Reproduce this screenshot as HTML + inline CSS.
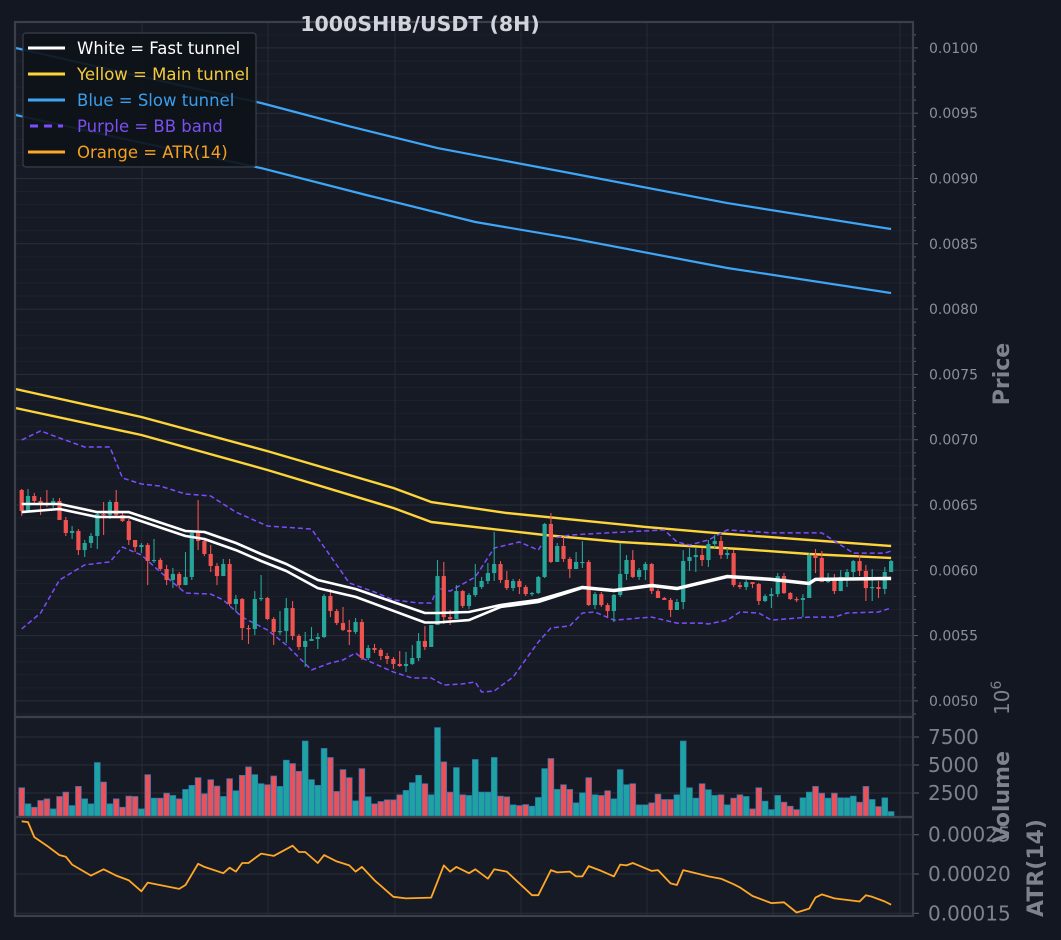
<!DOCTYPE html>
<html><head><meta charset="utf-8"><style>
html,body{margin:0;padding:0;background:#131722;}
svg{display:block;font-family:"DejaVu Sans","Liberation Sans",sans-serif;}
</style></head><body>
<svg id="chart" width="1061" height="940" viewBox="0 0 1061 940">
<defs>
<clipPath id="cpMain"><rect x="15" y="22" width="898" height="695"/></clipPath>
<clipPath id="cpVol"><rect x="15" y="717" width="898" height="100"/></clipPath>
<clipPath id="cpAtr"><rect x="15" y="817" width="898" height="99"/></clipPath>
</defs>
<rect x="0" y="0" width="1061" height="940" fill="#131722"/>
<rect x="15" y="22" width="898" height="894" fill="#161a25"/>
<g id="grid"></g>
<g id="mainG" clip-path="url(#cpMain)"></g>
<g id="volG" clip-path="url(#cpVol)"></g>
<g id="atrG" clip-path="url(#cpAtr)"></g>
<g id="axes"></g>
<g>
<rect x="23" y="33" width="233" height="134" rx="3" fill="#0e1219" fill-opacity="0.92" stroke="#3a3e4a" stroke-width="1.2"/>
<line x1="28" y1="48" x2="65" y2="48" stroke="#ffffff" stroke-width="3"/>
<text x="77" y="54" font-size="16.5" fill="#ffffff">White = Fast tunnel</text>
<line x1="28" y1="74" x2="65" y2="74" stroke="#fdd43a" stroke-width="3"/>
<text x="77" y="80" font-size="16.5" fill="#f5cb3d">Yellow = Main tunnel</text>
<line x1="28" y1="100" x2="65" y2="100" stroke="#3ea6f5" stroke-width="3"/>
<text x="77" y="106" font-size="16.5" fill="#3a9eea">Blue = Slow tunnel</text>
<line x1="30" y1="126" x2="63" y2="126" stroke="#7c4dff" stroke-width="3" stroke-dasharray="8,6"/>
<text x="77" y="132" font-size="16.5" fill="#7b4ff0">Purple = BB band</text>
<line x1="28" y1="152" x2="65" y2="152" stroke="#ffa726" stroke-width="3"/>
<text x="77" y="158" font-size="16.5" fill="#f5a020">Orange = ATR(14)</text>
</g>
<text x="420" y="31" text-anchor="middle" font-size="20.5" font-weight="bold" fill="#d1d4dc">1000SHIB/USDT (8H)</text>
<g id="labels"></g>
</svg>
<script>
// ---- data (prices in 1e-6 USDT, volume in 1e6, ATR in 1e-6) ----
const firstOpen = 6615;
const closes = [6454,6569,6531,6508,6500,6531,6385,6286,6301,6155,
6209,6263,6431,6423,6523,6423,6377,6232,6178,6194,
6071,6079,6010,5926,5972,5887,5949,6286,6224,6125,
6033,5956,6048,5742,5780,5558,5551,5780,5788,5627,
5528,5535,5711,5497,5413,5459,5474,5489,5803,5688,
5596,5543,5528,5604,5328,5405,5390,5344,5321,5283,
5267,5283,5328,5459,5413,5581,5956,5642,5627,5841,
5727,5811,5872,5918,5979,6048,5926,5864,5918,5872,
5818,5826,5949,6355,6064,6186,6087,6010,6064,6064,
5734,5818,5734,5688,5811,5972,6079,5949,6002,6048,
5841,5788,5773,5696,5757,6071,6102,6117,6079,6201,
6224,6117,6132,5887,5872,5910,5895,5765,5803,5818,
5956,5826,5780,5773,5788,6117,6094,5910,5941,5841,
5949,5987,6071,5995,5864,5872,5857,5987,6071];
const highs = [6623,6623,6592,6561,6615,6554,6554,6408,6339,6316,
6232,6286,6439,6523,6538,6615,6446,6393,6232,6209,
6209,6240,6094,6041,6018,5987,6140,6309,6538,6240,
6194,6056,6087,6087,5811,5788,5581,5841,5964,5796,
5642,5688,5788,5765,5512,5528,5566,5520,5818,5857,
5704,5719,5620,5635,5627,5428,5436,5405,5367,5336,
5382,5375,5428,5520,5573,5581,6079,6064,5696,5887,
5849,5826,6048,5949,6056,6293,6071,5995,5934,5934,
5887,5834,5956,6362,6439,6209,6255,6102,6140,6224,
6079,5834,5834,5750,5818,6209,6117,6155,6018,6064,
6056,5857,5796,5788,5780,6155,6171,6171,6171,6232,
6270,6263,6171,6155,5910,5926,5910,5903,5818,5864,
5979,5979,5834,5796,5818,6132,6163,6148,5979,5972,
6002,6010,6079,6117,6041,6010,5918,6025,6079];
const lows = [6416,6454,6500,6423,6485,6477,6385,6263,6240,6117,
6102,6171,6163,6270,6393,6416,6370,6194,6140,6132,
5887,6056,5995,5887,5864,5864,5887,5926,6155,6109,
5987,5887,5956,5727,5681,5466,5436,5504,5765,5619,
5428,5504,5443,5466,5390,5260,5459,5397,5482,5642,
5581,5535,5428,5512,5313,5313,5367,5313,5283,5244,
5260,5221,5275,5305,5390,5413,5596,5589,5581,5627,
5711,5704,5796,5857,5895,5918,5903,5849,5841,5818,
5803,5803,5818,5941,6056,6064,6064,5941,6010,6018,
5727,5704,5719,5642,5604,5796,5926,5941,5926,5926,
5818,5788,5773,5642,5719,5704,5995,5987,6033,6025,
6171,6087,6087,5872,5857,5849,5864,5734,5757,5711,
5796,5818,5773,5757,5642,5788,5979,5910,5903,5818,
5841,5872,5949,5956,5765,5765,5788,5818,5987];
const volumes = [2970,1530,1230,1830,1980,1080,2190,2580,1380,3090,
1980,1530,5220,3480,1530,1980,1230,2220,2190,1080,
4140,2040,2040,2490,2280,1980,2820,3180,3870,2430,
3690,3120,2190,3780,2700,4080,4830,4140,3330,3240,
4020,3090,5430,5130,4440,7140,3690,3180,6480,5670,
2640,4590,3870,1800,4680,2160,1530,1740,1890,1890,
2340,2730,3420,4080,3330,2340,8340,5280,2580,4770,
2340,2280,5490,2580,2580,5670,2220,2160,1440,1380,
1470,1320,2100,4680,5580,2820,3240,2820,1620,2520,
3870,2340,2280,2700,1980,4590,3240,3330,1440,1440,
1620,2400,1920,1920,2340,7140,2970,2040,3330,2790,
2280,2340,1440,2040,2340,2190,1080,2970,1770,1020,
2280,1680,1320,1020,2070,2580,3090,2490,2040,2490,
2070,2070,2220,1680,3090,1920,1290,2070,840];
const whiteIdx = [0,6,12,17,26,29,34,38,42,47,53,64,66,71,76,82,89,94,100,104,112,119,125,126,138];
const whiteUpper = [6508,6508,6446,6446,6301,6293,6209,6125,6048,5926,5857,5673,5673,5681,5734,5773,5872,5849,5887,5864,5956,5934,5903,5934,5941];
const whiteLower = [6446,6469,6408,6408,6263,6240,6155,6071,5995,5864,5796,5600,5600,5619,5719,5757,5865,5842,5880,5857,5949,5927,5896,5927,5934];
const yellowUpIdx = [-1,19,39,59,65,77,99,110,125,138];
const yellowUpper = [7388,7174,6913,6630,6523,6439,6332,6286,6232,6186];
const yellowLoIdx = [-1,19,39,59,65,83,95,114,125,138];
const yellowLower = [7243,7036,6768,6477,6370,6270,6217,6163,6125,6094];
const blueUpIdx = [-1,18,38,52,66,87,112,138];
const blueUpper = [10000,9790,9578,9400,9233,9042,8812,8613];
const blueLoIdx = [-1,18,38,55,72,87,112,138];
const blueLower = [9487,9285,9080,8870,8667,8544,8315,8123];
const bbUpIdx = [0,3,6,10,14,16,19,22,26,30,34,39,46,47,52,56,59,63,65,66,68,72,75,79,82,83,87,93,102,104,106,109,112,119,127,130,132,137,138];
const bbUpper = [6998,7067,7013,6944,6944,6707,6661,6645,6584,6569,6446,6339,6316,6247,5903,5834,5773,5750,5750,5864,5841,5949,6171,6217,6155,6232,6270,6286,6309,6217,6194,6232,6309,6286,6286,6194,6132,6132,6148];
const bbLoIdx = [0,3,6,10,14,16,19,22,26,30,32,35,39,42,46,49,51,53,54,59,62,65,67,70,72,73,75,78,82,84,87,89,91,94,100,104,108,109,112,114,117,119,125,129,131,136,138];
const bbLower = [5551,5673,5926,6041,6064,6178,6117,5987,5826,5818,5773,5642,5543,5428,5237,5290,5313,5367,5328,5221,5175,5175,5122,5130,5145,5068,5076,5183,5451,5558,5574,5673,5681,5619,5642,5596,5596,5589,5619,5681,5673,5619,5642,5642,5673,5681,5711];
const atrIdx = [0,1,2,4,6,7,8,11,13,15,17,19,20,25,26,28,29,32,33,34,35,36,38,40,43,44,45,47,48,50,52,53,54,56,59,61,65,67,68,69,71,72,74,75,77,81,82,84,85,87,88,89,90,92,94,95,96,97,100,101,103,104,105,108,109,111,113,114,116,119,121,123,125,126,127,129,133,134,135,137,138];
const atrVals = [267,266,247,236,224,222,212,198,206,198,192,178,189,181,186,213,209,201,208,203,214,214,226,223,236,228,228,214,224,216,211,203,209,192,171,169,170,211,203,209,201,206,194,206,203,173,173,205,202,203,197,197,210,204,197,212,211,214,204,205,188,186,205,199,197,194,187,183,172,163,164,151,156,170,174,169,165,173,171,165,161];
const priceTicks = [5000,5500,6000,6500,7000,7500,8000,8500,9000,9500,10000];
const volTicks = [2500,5000,7500];
const volTickLabels = ["2500","5000","7500"];
const atrTicks = [150,200,250];
const atrTickLabels = ["0.00015","0.00020","0.00025"];

// ---- axis functions ----
const NS = "http://www.w3.org/2000/svg";
const xOf = i => 21.7 + i * 6.3;
const yP = p => 505 - (p - 6500) * 0.1306;
const yV = v => 821 - v * 28 / 2500;
const yA = a => 874 - (a - 200) * 0.786;
function mk(tag, attrs, parent) {
  const e = document.createElementNS(NS, tag);
  for (const k in attrs) e.setAttribute(k, attrs[k]);
  parent.appendChild(e);
  return e;
}
const grid = document.getElementById("grid");
const mainG = document.getElementById("mainG");
const volG = document.getElementById("volG");
const atrG = document.getElementById("atrG");
const axes = document.getElementById("axes");
const labels = document.getElementById("labels");

for (let p = 4900; p <= 10100; p += 100) {
  const y = yP(p);
  if (y < 22 || y > 717) continue;
  const major = p % 500 === 0;
  const l = mk("line", {x1: 15, x2: 913, y1: y, y2: y, stroke: major ? "#2a2e39" : "#1d212c", "stroke-width": 1}, grid);
  
  
  const t = mk("line", {x1: 913, x2: major ? 918 : 916, y1: y, y2: y, stroke: "#5d616c", "stroke-width": 1}, axes);
  
  
}
[142, 268, 395, 521, 647, 773, 900].forEach(x => {
  const l = mk("line", {x1: x, x2: x, y1: 22, y2: 916, stroke: "#262a35", "stroke-width": 1}, grid);
  
  
});
volTicks.forEach((v, k) => {
  const y = yV(v);
  const l = mk("line", {x1: 15, x2: 913, y1: y, y2: y, stroke: "#2a2e39", "stroke-width": 1}, grid);
  
  
  const t = mk("line", {x1: 913, x2: 919, y1: y, y2: y, stroke: "#5d616c"}, axes);
  
  
  const tx = mk("text", {x: 928, y: y + 7, "font-size": 20, fill: "#7e828d"}, labels);
  tx.textContent = volTickLabels[k];
  
  
});
atrTicks.forEach((a, k) => {
  const y = yA(a);
  const l = mk("line", {x1: 15, x2: 913, y1: y, y2: y, stroke: "#2a2e39", "stroke-width": 1}, grid);
  
  
  const t = mk("line", {x1: 913, x2: 919, y1: y, y2: y, stroke: "#5d616c"}, axes);
  
  
  const tx = mk("text", {x: 928, y: y + 7, "font-size": 20, fill: "#7e828d"}, labels);
  tx.textContent = atrTickLabels[k];
  
  
});
priceTicks.forEach(p => {
  const tx = mk("text", {x: 929, y: yP(p) + 5, "font-size": 14, fill: "#8b909c"}, labels);
  tx.textContent = (p / 1e6).toFixed(4);
  
  
});

function line(idx, vals, yf, parent, color, w, name, dash) {
  const pts = idx.map((i, k) => xOf(i).toFixed(1) + "," + yf(vals[k]).toFixed(1)).join(" ");
  const a = {points: pts, fill: "none", stroke: color, "stroke-width": w, "stroke-linejoin": "round"};
  if (dash) a["stroke-dasharray"] = dash;
  const e = mk("polyline", a, parent);
  
  
}
line(blueUpIdx, blueUpper, yP, mainG, "#3ea6f5", 2.2, "slow-tunnel-upper");
line(blueLoIdx, blueLower, yP, mainG, "#3ea6f5", 2.2, "slow-tunnel-lower");
line(yellowUpIdx, yellowUpper, yP, mainG, "#fdd43a", 2.4, "main-tunnel-upper");
line(yellowLoIdx, yellowLower, yP, mainG, "#fdd43a", 2.4, "main-tunnel-lower");
line(bbUpIdx, bbUpper, yP, mainG, "#7c4dff", 1.5, "bb-upper", "5,3");
line(bbLoIdx, bbLower, yP, mainG, "#7c4dff", 1.5, "bb-lower", "5,3");

closes.forEach((c, i) => {
  const o = i === 0 ? firstOpen : closes[i - 1];
  const up = c >= o;
  const col = up ? "#26a69a" : "#ef5350";
  const x = xOf(i);
  const hi = Math.max(highs[i], o, c), lo = Math.min(lows[i], o, c);
  const w = mk("line", {x1: x, x2: x, y1: yP(hi), y2: yP(lo), stroke: col, "stroke-width": 1.1}, mainG);
  
  
  const yt = yP(Math.max(o, c)), yb = yP(Math.min(o, c));
  const b = mk("rect", {x: x - 2.1, y: yt, width: 4.2, height: Math.max(1.2, yb - yt), fill: col}, mainG);
  
  
  const vb = mk("rect", {x: x - 2.9, y: yV(volumes[i]), width: 5.8, height: 817 - yV(volumes[i]), fill: up ? "#1fa3a0" : "#e8525a", stroke: "#2b76b8", "stroke-width": 0.7}, volG);
  
  
});
line(whiteIdx, whiteUpper, yP, mainG, "#ffffff", 2.6, "fast-tunnel-upper");
line(whiteIdx, whiteLower, yP, mainG, "#ffffff", 2.6, "fast-tunnel-lower");
line(atrIdx, atrVals, yA, atrG, "#ffa726", 1.8, "atr-line");

[[15,22,898,695,"price-panel"],[15,717,898,100,"volume-panel"],[15,817,898,99,"atr-panel"]].forEach(r => {
  const e = mk("rect", {x: r[0], y: r[1], width: r[2], height: r[3], fill: "none", stroke: "#3b3f4b", "stroke-width": 2.2}, axes);
  
  
});

function vtext(str, x, y, size, bold, name) {
  const e = mk("text", {x: x, y: y, "font-size": size, "font-weight": bold ? "bold" : "normal", fill: "#7e828d", "text-anchor": "middle", transform: "rotate(-90 " + x + " " + y + ")"}, labels);
  e.textContent = str;
  
  
}
vtext("Price", 1009, 374, 22, true, "price-axis-title");
vtext("Volume", 1009, 797, 22, true, "volume-axis-title");
vtext("ATR(14)", 1043, 868, 22, true, "atr-axis-title");
const sc = mk("text", {x: 1009, y: 715, "font-size": 20, fill: "#7e828d", transform: "rotate(-90 1009 715)"}, labels);


sc.textContent = "10";
const sc2 = mk("tspan", {dy: -8, "font-size": 14}, sc);
sc2.textContent = "6";


</script>
</body></html>
